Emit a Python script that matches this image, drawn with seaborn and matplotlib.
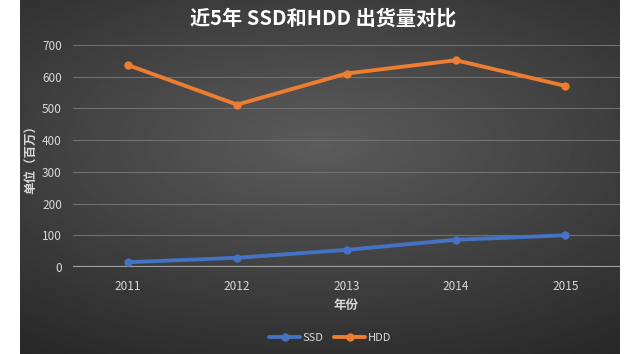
import numpy as np
import pandas as pd
import matplotlib.pyplot as plt
import seaborn as sns

# data
years = ['2011', '2012', '2013', '2014', '2015']
ssd = [15, 29, 54, 86, 100]
hdd = [637, 512, 610, 652, 571]

df = pd.DataFrame({
    '年份': years * 2,
    'value': ssd + hdd,
    'type': ['SSD'] * len(years) + ['HDD'] * len(years),
})

sns.set_style('dark')
plt.rcParams['font.family'] = ['Noto Sans CJK SC', 'DejaVu Sans']

fig = plt.figure(figsize=(6.4, 3.54), dpi=100, facecolor='white')

# dark radial gradient backdrop
bg = fig.add_axes([20 / 640, 0, 600 / 640, 1], zorder=-1)
yy, xx = np.mgrid[-1:1:200j, -1:1:300j]
r = np.sqrt((xx * 0.9) ** 2 + (yy * 1.1 + 0.2) ** 2)
bg.imshow(0.36 - 0.13 * r, cmap='gray', vmin=0, vmax=1, aspect='auto',
          extent=[0, 1, 0, 1])
bg.axis('off')

ax = fig.add_axes([73 / 640, (354 - 267) / 354, 547 / 640, 222 / 354])
ax.set_facecolor('none')

sns.lineplot(data=df, x='年份', y='value', hue='type', ax=ax,
             palette={'SSD': '#4472c4', 'HDD': '#ed7d31'},
             marker='o', markersize=6, linewidth=2.8, markeredgewidth=0)

ax.set_xlim(-0.5, 4.5)
ax.set_ylim(0, 700)
ax.set_yticks(range(0, 701, 100))
ax.grid(False)
for v in range(100, 701, 100):
    ax.axhline(v, color='#707070', lw=0.8, zorder=0)
ax.axhline(0, color='#a0a0a0', lw=1.6, zorder=0)
for s in ax.spines.values():
    s.set_visible(False)
ax.tick_params(colors='#d8d8d8', labelsize=8.5, length=0, pad=8)
ax.tick_params(axis='x', pad=9)

ax.set_xlabel('年份', color='#d8d8d8', fontsize=9, fontweight='bold', labelpad=5)
ax.set_ylabel('单位（百万）', color='#d8d8d8', fontsize=9, fontweight='bold', labelpad=3)

fig.text(0.505, 0.95, '近5年 SSD和HDD 出货量对比', color='white', fontsize=14.5,
         fontweight='bold', ha='center', va='center')

leg = ax.legend(loc='center', bbox_to_anchor=(330 / 640, 1 - 338 / 354),
                bbox_transform=fig.transFigure, ncol=2, frameon=False,
                fontsize=8, handlelength=2.8, columnspacing=1.0,
                handletextpad=0.2)
for t in leg.get_texts():
    t.set_color('#d8d8d8')

fig.savefig('out.png', dpi=100)
